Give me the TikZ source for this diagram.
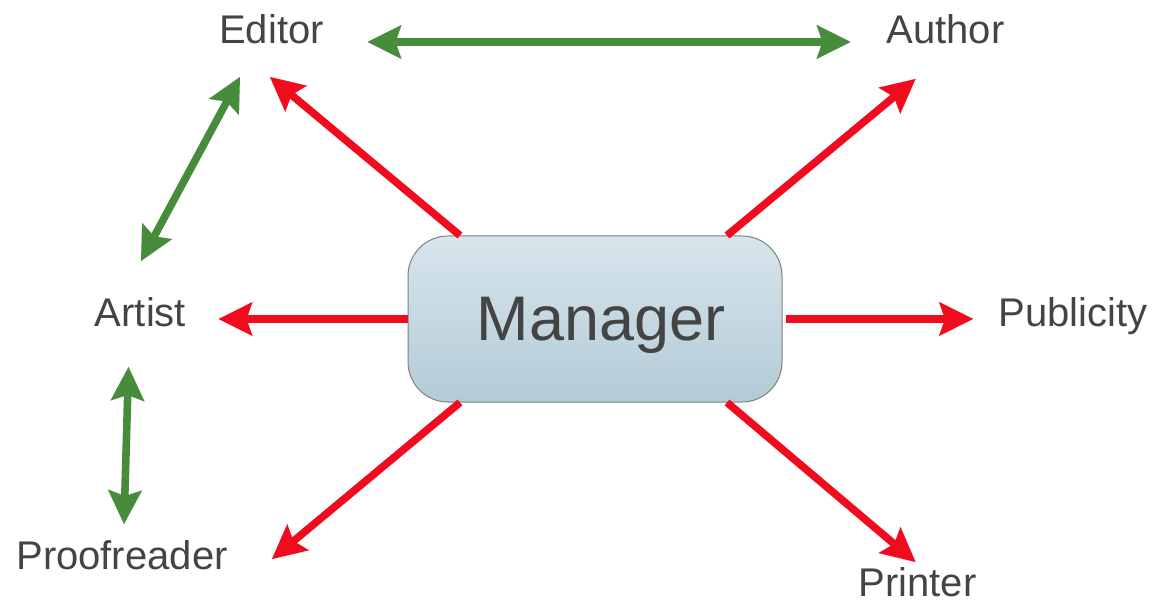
\documentclass[tikz,border=0pt]{standalone}
\usepackage{fontspec}
\setmainfont{Liberation Sans}
\usetikzlibrary{arrows.meta,calc,shadings}
\definecolor{txt}{RGB}{68,68,68}
\definecolor{redarr}{RGB}{240,12,30}
\definecolor{greenarr}{RGB}{70,140,58}
\definecolor{boxtop}{RGB}{216,229,236}
\definecolor{boxbot}{RGB}{179,203,215}
\definecolor{boxline}{RGB}{128,128,128}
\tikzset{
  lbl/.style={anchor=base, inner sep=0pt, text=txt, font=\fontsize{20pt}{24pt}\selectfont},
  mgr/.style={rectangle, rounded corners=20pt, minimum width=187pt, minimum height=83pt,
    top color=boxtop, bottom color=boxbot, draw=boxline, line width=0.5pt,
    text=txt, text depth=0pt, font=\fontsize{31.5pt}{36pt}\selectfont},
  tipshape/.tip={Stealth[length=17pt, width=17pt, inset=3pt, line width=0.01pt]},
  redline/.style={draw=redarr, line width=3.8pt, -tipshape},
  greenline/.style={draw=greenarr, line width=3.8pt, tipshape-tipshape}
}
\begin{document}
\begin{tikzpicture}[x=0.5pt, y=-0.5pt]
\useasboundingbox (0,0) rectangle (1154,603);
\node[mgr] (m) at (595,319) {\hspace*{6pt}Manager};
\node[lbl] (ed) at (271.5,44) {Editor};
\node[lbl] (au) at (945.5,44) {Author};
\node[lbl] (ar) at (140.5,327) {Artist};
\node[lbl] (pu) at (1073,327) {Publicity};
\node[lbl] (pr) at (122,569) {Proofreader};
\node[lbl] (pt) at (917.5,596) {Printer};
% red arrows
\draw[redline] ($(m.north)+(-135,0)$) -- ($(ed.base)+(-1.5,33)$);
\draw[redline] ($(m.north)+(132,0)$) -- ($(au.base)+(-30,35)$);
\draw[redline] (m.west) -- ($(ar.base)+(78,-8)$);
\draw[redline] ($(m.east)+(3,0)$) -- ($(pu.base)+(-100,-8)$);
\draw[redline] ($(m.south)+(-135,0)$) -- ($(pr.base)+(150,-10)$);
\draw[redline] ($(m.south)+(132,0)$) -- ($(pt.base)+(-2,-34)$);
% green arrows
\draw[greenline] ($(ed.base)+(96,-2)$) -- ($(au.base)+(-95,-2)$);
\draw[greenline] ($(ed.base)+(-31.5,33)$) -- ($(ar.base)+(0.5,-66)$);
\draw[greenline] ($(ar.base)+(-12,40)$) -- ($(pr.base)+(2,-45)$);
\end{tikzpicture}
\end{document}
